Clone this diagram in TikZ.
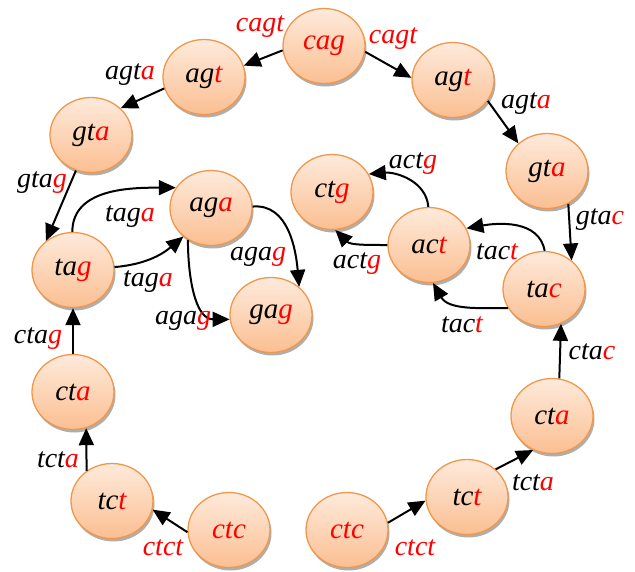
\documentclass[tikz,border=0pt]{standalone}
\usepackage{fontspec}
\setmainfont{Liberation Serif}
\usetikzlibrary{arrows.meta,shadows,shapes.geometric}
\definecolor{peachtop}{HTML}{FEEADB}
\definecolor{peachbot}{HTML}{FBBF92}
\definecolor{peachrim}{HTML}{F2974A}
\newcommand{\kmer}[2]{#1\textcolor{red}{#2}}
\begin{document}
\begin{tikzpicture}[x=1pt,y=-1pt,
  kmernode/.style={ellipse,minimum width=82pt,minimum height=75pt,inner sep=0pt,
    draw=peachrim,line width=1.3pt,top color=peachtop,bottom color=peachbot,
    drop shadow={shadow xshift=1.5pt,shadow yshift=-3pt,fill=black!45,opacity=0.7},
    font=\fontsize{29}{31}\selectfont\itshape},
  edgelabel/.style={font=\fontsize{28}{30}\selectfont\itshape,inner sep=0pt},
  link/.style={draw=black,line width=2pt,-{Triangle[length=17pt,width=15pt]}}]
\useasboundingbox (0,0) rectangle (635,571);

% top cycle
\node[kmernode] (cag)  at (324,46)  {\textcolor{red}{cag}};
\node[kmernode] (agtL) at (204,77)  {\kmer{ag}{t}};
\node[kmernode] (agtR) at (453,80)  {\kmer{ag}{t}};
\node[kmernode] (gtaL) at (91,135)  {\kmer{gt}{a}};
\node[kmernode] (gtaR) at (547,171) {\kmer{gt}{a}};
% left branch
\node[kmernode] (tag)  at (73,270)  {\kmer{ta}{g}};
\node[kmernode] (aga)  at (211,208) {\kmer{ag}{a}};
\node[kmernode] (gag)  at (271,315) {\kmer{ga}{g}};
\node[kmernode] (ctaL) at (73,392)  {\kmer{ct}{a}};
\node[kmernode] (tctL) at (112,501) {\kmer{tc}{t}};
\node[kmernode] (ctcL) at (229,530) {\textcolor{red}{ctc}};
% right branch
\node[kmernode] (ctg)  at (332,192) {\kmer{ct}{g}};
\node[kmernode] (act)  at (429,245) {\kmer{ac}{t}};
\node[kmernode] (tac)  at (544,289) {\kmer{ta}{c}};
\node[kmernode] (ctaR) at (552,416) {\kmer{ct}{a}};
\node[kmernode] (tctR) at (467,497) {\kmer{tc}{t}};
\node[kmernode] (ctcR) at (347,530) {\textcolor{red}{ctc}};

% straight edges
\draw[link] (cag.186) -- (agtL.16);
\draw[link] (cag.352) -- (agtR.177);
\draw[link] (agtL.196) -- (gtaL.42);
\draw[link] (agtR.329) -- (gtaR.136);
\draw[link] (gtaL.247) -- (tag.133);
\draw[link] (gtaR.303) -- (tac.46);
\draw[link] (ctaL.90) -- (tag.270);
\draw[link] (tctL.130) -- (ctaL.290);
\draw[link] (ctcL.183) -- (tctL.348);
\draw[link] (ctcR.10) -- (tctR.185);
\draw[link] (tctR.44) -- (ctaR.241);
\draw[link] (ctaR.79) -- (tac.296);

% curved edges
\draw[link] (tag.91) to[out=90,in=180] (aga.150);
\draw[link] (tag.4) to[out=5,in=220] (aga.226);
\draw[link] (aga.2) to[out=5,in=95] (gag.45);
\draw[link] (aga.234) to[out=270,in=180] (gag.186);
\draw[link] (tac.89) to[out=100,in=10] (act.24);
\draw[link] (tac.208) to[out=180,in=-60] (act.276);
\draw[link] (act.91) to[out=95,in=5] (ctg.26);
\draw[link] (act.180) to[out=180,in=-45] (ctg.275);

% edge labels
\node[edgelabel] (l1)  at (260,27)  {\textcolor{red}{cagt}};
\node[edgelabel] (l2)  at (393,39)  {\textcolor{red}{cagt}};
\node[edgelabel] (l3)  at (130,75)  {\kmer{agt}{a}};
\node[edgelabel] (l4)  at (526,104) {\kmer{agt}{a}};
\node[edgelabel] (l5)  at (42,183)  {\kmer{gta}{g}};
\node[edgelabel] (l6)  at (600,220) {\kmer{gta}{c}};
\node[edgelabel] (l7)  at (130,217) {\kmer{tag}{a}};
\node[edgelabel] (l8)  at (148,282) {\kmer{tag}{a}};
\node[edgelabel] (l9)  at (258,257) {\kmer{aga}{g}};
\node[edgelabel] (l10) at (183,321) {\kmer{aga}{g}};
\node[edgelabel] (l11) at (413,164) {\kmer{act}{g}};
\node[edgelabel] (l12) at (357,264) {\kmer{act}{g}};
\node[edgelabel] (l13) at (497,252) {\kmer{tac}{t}};
\node[edgelabel] (l14) at (462,325) {\kmer{tac}{t}};
\node[edgelabel] (l15) at (38,339)  {\kmer{cta}{g}};
\node[edgelabel] (l16) at (592,352) {\kmer{cta}{c}};
\node[edgelabel] (l17) at (58,460)  {\kmer{tct}{a}};
\node[edgelabel] (l18) at (533,483) {\kmer{tct}{a}};
\node[edgelabel] (l19) at (163,548) {\textcolor{red}{ctct}};
\node[edgelabel] (l20) at (415,548) {\textcolor{red}{ctct}};
\end{tikzpicture}
\end{document}
